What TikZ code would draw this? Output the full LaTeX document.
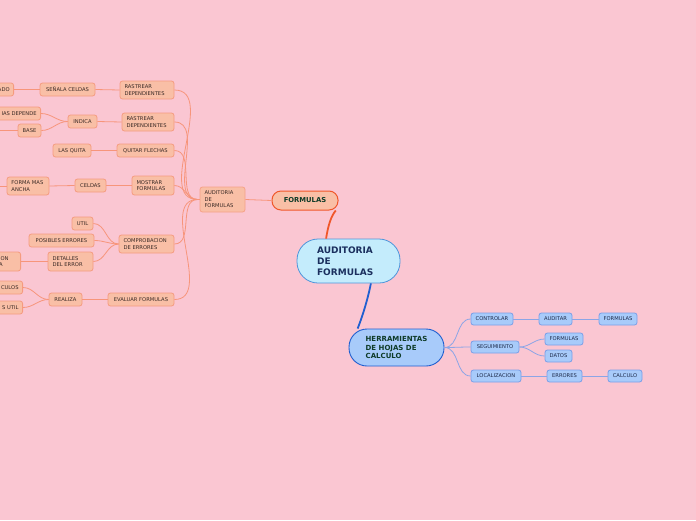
\documentclass[tikz,border=0pt]{standalone}
\usepackage{fontspec}
\usetikzlibrary{calc}
\setmainfont{DejaVu Sans}
\definecolor{bg}{HTML}{FAC6D2}
\definecolor{lfill}{HTML}{F9BFA6}
\definecolor{lborder}{HTML}{F59B7F}
\definecolor{ltext}{HTML}{3A2A26}
\definecolor{lline}{HTML}{F7957B}
\definecolor{fborder}{HTML}{F0572A}
\definecolor{rfill}{HTML}{A8CBFA}
\definecolor{rborder}{HTML}{7A9FE8}
\definecolor{rtext}{HTML}{1D2A4A}
\definecolor{rline}{HTML}{8CA5E6}
\definecolor{cfill}{HTML}{C4ECFC}
\definecolor{cborder}{HTML}{4E95DA}
\definecolor{ctext}{HTML}{1B2F5E}
\definecolor{hborder}{HTML}{1F5FD0}
\definecolor{gtext}{HTML}{0E3B28}
\tikzset{
  lbox/.style={draw=lborder, fill=lfill, rounded corners=2.5pt, line width=0.8pt,
    text=ltext, inner sep=0pt, font=\fontsize{5.2}{6.5}\selectfont, align=center},
  lmulti/.style={lbox, align=left, inner xsep=4.5pt, text width=#1},
  lcut/.style={lbox, anchor=east, text width=56pt, inner xsep=4pt, inner ysep=0pt, align=right},
  rbox/.style={draw=rborder, fill=rfill, rounded corners=2.5pt, line width=0.8pt,
    text=rtext, inner sep=0pt, font=\fontsize{5.2}{6.5}\selectfont, minimum height=12pt},
  lconn/.style={draw=lline, line width=0.8pt},
  rconn/.style={draw=rline, line width=0.8pt},
}
\begin{document}
\begin{tikzpicture}[x=1pt,y=-1pt]
\fill[bg] (0,0) rectangle (696,520);
\useasboundingbox (0,0) rectangle (696,520);
\begin{scope}
\clip (0,0) rectangle (696,520);
% main nodes
\node[draw=cborder, fill=cfill, line width=0.8pt, rounded corners=21pt, minimum width=103pt, minimum height=44pt,
  text=ctext, font=\bfseries\fontsize{9}{11}\selectfont, align=left, inner sep=0pt] (c) at (348.5,261)
  {AUDITORIA\rule{7pt}{0pt}\\DE\\FORMULAS};
\node[draw=fborder, fill=lfill, line width=1pt, rounded corners=9pt, minimum width=66pt, minimum height=19pt,
  text=gtext, font=\bfseries\fontsize{6.8}{8}\selectfont, inner sep=0pt] (f) at (305,200.5) {FORMULAS};
\node[draw=hborder, fill=rfill, line width=0.9pt, rounded corners=18pt, minimum width=95pt, minimum height=37pt,
  text=gtext, font=\bfseries\fontsize{7}{8.7}\selectfont, align=left, inner sep=0pt] (h) at (396.5,347.5)
  {HERRAMIENTAS\\DE HOJAS DE\\CALCULO};
\draw[fborder, line width=1.8pt] (c.135) .. controls (328,226) and (331,216) .. (f.-18);
\draw[hborder, line width=1.8pt] (c.-45) .. controls (368,298) and (363,315) .. (h.154);

% level 2
\node[lmulti=36pt, draw=lborder!80!lfill, minimum height=25pt] (aud) at (222.5,199.5) {AUDITORIA\\DE\\FORMULAS};
\coordinate (audin) at ($(aud.west)+(-2,0)$);
\draw[lconn] (aud.east) -- (f.west);

% level 3
\node[lmulti=45pt, minimum height=18pt] (r1) at (147,90) {RASTREAR\\DEPENDIENTES};
\node[lmulti=43pt, minimum height=18pt] (r2) at (148,122) {RASTREAR\\DEPENDIENTES};
\node[lbox, minimum width=57pt, minimum height=13pt] (qf) at (145.5,150.5) {QUITAR FLECHAS};
\node[lmulti=33pt, minimum height=19pt] (mf) at (153,185.5) {MOSTRAR\\FORMULAS};
\node[lmulti=46pt, minimum height=18pt] (ce) at (146.5,244) {COMPROBACION\\DE ERRORES};
\node[lbox, minimum width=66pt, minimum height=13pt] (ef) at (141,299.5) {EVALUAR FORMULAS};
\foreach \n in {r1,r2,qf,mf,ce,ef}
  \draw[lconn] (\n.east) to[out=0,in=180] (audin) -- (aud.west);

% level 4
\node[lbox, minimum width=55pt, minimum height=13pt] (sc) at (67.5,89.5) {SEÑALA CELDAS};
\node[lbox, minimum width=29pt, minimum height=13pt] (in) at (82.5,121.5) {INDICA};
\node[lbox, minimum width=38pt, minimum height=13pt] (lq) at (72,150.5) {LAS QUITA};
\node[lbox, minimum width=31pt, minimum height=13pt] (cel) at (90.5,185.5) {CELDAS};
\node[lbox, minimum width=21pt, minimum height=13pt] (ut) at (82.5,223.5) {UTIL};
\node[lbox, minimum width=65pt, minimum height=13pt] (pe) at (61.5,240.5) {POSIBLES ERRORES};
\node[lmulti=36pt, minimum height=19pt] (de) at (70.5,261.5) {DETALLES\\DEL ERROR};
\node[lbox, minimum width=33pt, minimum height=13pt] (re) at (65.5,299.5) {REALIZA};
\draw[lconn] (sc.east) -- (r1.west);
\draw[lconn] (in.east) -- (r2.west);
\draw[lconn] (lq.east) -- (qf.west);
\draw[lconn] (cel.east) -- (mf.west);
\draw[lconn] (re.east) -- (ef.west);
\foreach \n in {ut,pe,de}
  \draw[lconn] (\n.east) to[out=0,in=180] (ce.west);

% level 5
\node[lcut, minimum height=13pt] (ado) at (14,89.5) {ADO};
\node[lcut, minimum height=13pt] (iad) at (41,113.5) {IAS DEPENDE};
\node[lbox, minimum width=23pt, minimum height=13pt] (base) at (29.5,130.5) {BASE};
\node[lmulti=33pt, minimum height=18pt] (fma) at (28,186) {FORMA MAS\\ANCHA};
\node[lcut, minimum height=19pt] (on) at (21,261.5) {ON\rule{8pt}{0pt}\\A\rule{14pt}{0pt}};
\node[lcut, minimum height=13pt] (cul) at (23,287.5) {CULOS};
\node[lcut, minimum height=13pt] (sut) at (23,307.5) {S UTIL};
\draw[lconn] (ado.east) -- (sc.west);
\draw[lconn] (iad.east) to[out=0,in=180] (in.west);
\draw[lconn] (base.east) to[out=0,in=180] (in.west);
\draw[lconn] (fma.east) -- (cel.west);
\draw[lconn] (on.east) -- (de.west);
\draw[lconn] (cul.east) to[out=0,in=180] (re.west);
\draw[lconn] (sut.east) to[out=0,in=180] (re.west);
% level 6 (off canvas)
\coordinate (x1) at (-30,130.5);
\coordinate (x2) at (-30,186);
\draw[lconn] (base.west) -- (x1);
\draw[lconn] (fma.west) -- (x2);

% right side
\node[rbox, minimum width=42pt] (ctl) at (492,319) {CONTROLAR};
\node[rbox, minimum width=33pt] (aut) at (555.5,319) {AUDITAR};
\node[rbox, minimum width=38pt] (fo1) at (618,319) {FORMULAS};
\node[rbox, minimum width=48pt] (seg) at (495,347) {SEGUIMIENTO};
\node[rbox, minimum width=38pt] (fo2) at (564,339) {FORMULAS};
\node[rbox, minimum width=27pt] (dat) at (558.5,356) {DATOS};
\node[rbox, minimum width=50pt] (loc) at (496,376) {LOCALIZACION};
\node[rbox, minimum width=35pt] (err) at (564.5,376) {ERRORES};
\node[rbox, minimum width=34pt] (cal) at (625,376) {CALCULO};
\foreach \n in {ctl,seg,loc}
  \draw[rconn] (h.east) to[out=0,in=180] (\n.west);
\draw[rconn] (ctl.east) -- (aut.west);
\draw[rconn] (aut.east) -- (fo1.west);
\draw[rconn] (seg.east) to[out=0,in=180] (fo2.west);
\draw[rconn] (seg.east) to[out=0,in=180] (dat.west);
\draw[rconn] (loc.east) -- (err.west);
\draw[rconn] (err.east) -- (cal.west);
\end{scope}
\end{tikzpicture}
\end{document}
